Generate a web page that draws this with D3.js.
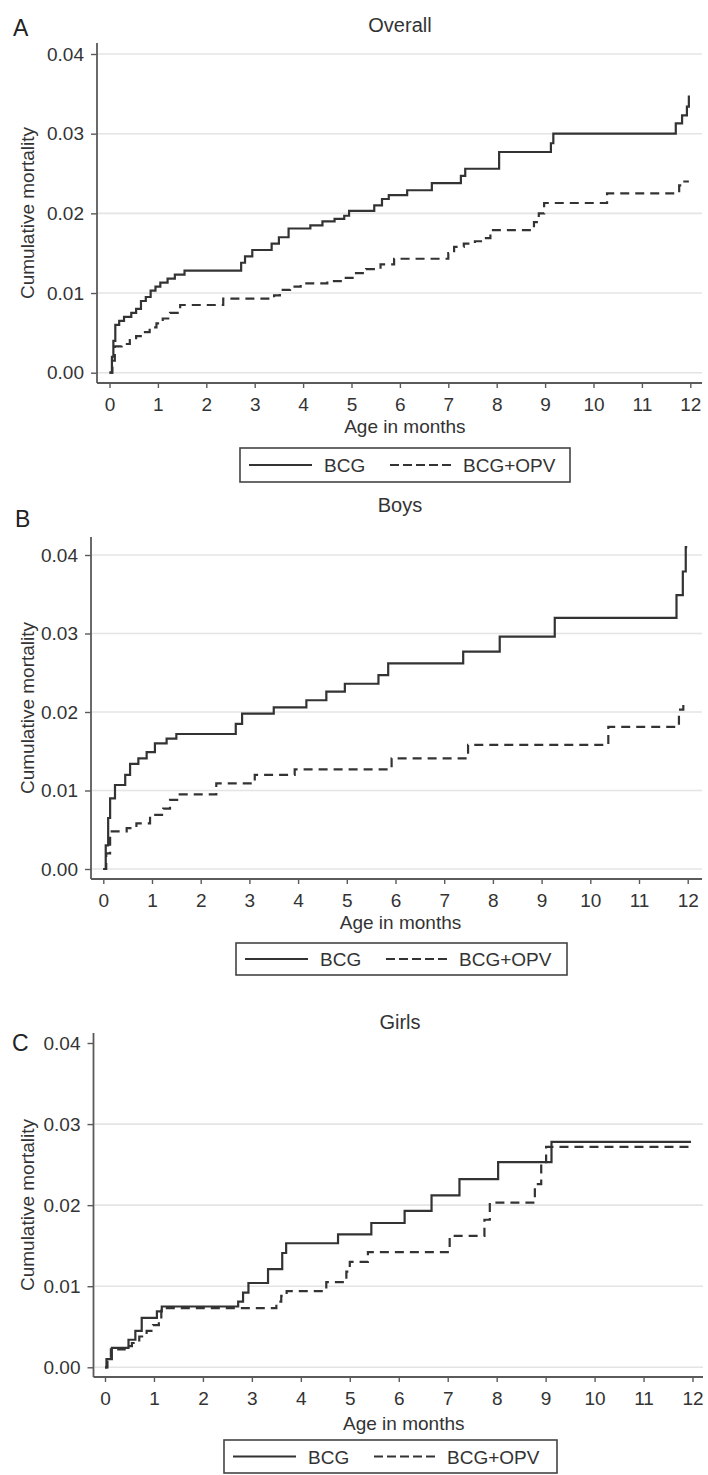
<!DOCTYPE html>
<html>
<head>
<meta charset="utf-8">
<script src="https://cdn.jsdelivr.net/npm/d3@7"></script>
<style>
  body { margin: 0; background: #fff; }
  svg { display: block; font-family: "Liberation Sans", Arial, sans-serif; }
</style>
</head>
<body>
<svg width="708" height="1475"></svg>
<script>
// tick labels
var ageTicks = [0, 1, 2, 3, 4, 5, 6, 7, 8, 9, 10, 11, 12];
var rateTicks = [0, 0.01, 0.02, 0.03, 0.04];
var seriesNames = ["BCG", "BCG+OPV"];

// A: overall
var aBcgT = [0, 0.05, 0.08, 0.12, 0.2, 0.3, 0.45, 0.55, 0.65, 0.75, 0.85, 0.95, 1.05, 1.2, 1.35, 1.55, 2.72, 2.8, 2.95, 3.35, 3.5, 3.7, 4.15, 4.4, 4.65, 4.85, 4.95, 5.47, 5.63, 5.77, 6.15, 6.66, 7.26, 7.35, 8.05, 9.12, 9.17, 11.7, 11.83, 11.93, 11.97];
var aBcgV = [0, 0.002, 0.004, 0.006, 0.0065, 0.007, 0.0075, 0.008, 0.009, 0.0095, 0.0103, 0.0108, 0.0113, 0.0118, 0.0123, 0.0128, 0.0138, 0.0146, 0.0154, 0.0162, 0.017, 0.0181, 0.0185, 0.019, 0.0193, 0.0197, 0.0203, 0.021, 0.0218, 0.0223, 0.0229, 0.0238, 0.0247, 0.0256, 0.0277, 0.0288, 0.03, 0.0313, 0.0323, 0.0334, 0.0348];
var aOpvT = [0, 0.06, 0.11, 0.25, 0.42, 0.55, 0.69, 0.83, 0.97, 1.1, 1.25, 1.46, 2.35, 3.4, 3.52, 3.73, 3.95, 4.5, 4.85, 5.05, 5.3, 5.6, 5.88, 7.0, 7.12, 7.32, 7.55, 7.7, 7.87, 8.77, 8.87, 8.98, 10.28, 11.77, 11.85, 11.97];
var aOpvV = [0, 0.0015, 0.0033, 0.0036, 0.0041, 0.0046, 0.0051, 0.0057, 0.0062, 0.0068, 0.0075, 0.0085, 0.0093, 0.0097, 0.0104, 0.0108, 0.0112, 0.0115, 0.0119, 0.0125, 0.013, 0.0136, 0.0143, 0.015, 0.0158, 0.0162, 0.0165, 0.0169, 0.0179, 0.0189, 0.02, 0.0213, 0.0225, 0.0235, 0.024, 0.024];

// B: boys
var bBcgT = [0, 0.05, 0.1, 0.14, 0.24, 0.45, 0.55, 0.72, 0.89, 1.06, 1.3, 1.5, 2.72, 2.85, 3.5, 4.17, 4.58, 4.96, 5.65, 5.85, 7.39, 8.14, 9.27, 11.77, 11.9, 11.96, 11.99];
var bBcgV = [0, 0.003, 0.0065, 0.009, 0.0107, 0.012, 0.0134, 0.0141, 0.0149, 0.016, 0.0166, 0.0172, 0.0185, 0.0198, 0.0206, 0.0215, 0.0226, 0.0236, 0.0247, 0.0262, 0.0277, 0.0296, 0.032, 0.0349, 0.0379, 0.041, 0.041];
var bOpvT = [0, 0.06, 0.14, 0.48, 0.68, 0.96, 1.23, 1.37, 1.57, 2.32, 3.11, 3.93, 5.92, 7.49, 10.37, 11.82, 11.91, 11.99];
var bOpvV = [0, 0.002, 0.0048, 0.0052, 0.0058, 0.0069, 0.0077, 0.0088, 0.0095, 0.0109, 0.012, 0.0127, 0.0141, 0.0158, 0.0181, 0.0203, 0.0211, 0.0211];

// C: girls
var cBcgT = [0, 0.03, 0.14, 0.48, 0.62, 0.75, 1.06, 1.16, 2.72, 2.82, 2.93, 3.33, 3.62, 3.7, 4.76, 5.44, 6.12, 6.67, 7.24, 8.03, 9.12, 11.97];
var cBcgV = [0, 0.001, 0.0024, 0.0034, 0.0045, 0.0061, 0.0069, 0.0075, 0.0081, 0.0092, 0.0104, 0.0121, 0.0141, 0.0153, 0.0164, 0.0178, 0.0193, 0.0212, 0.0232, 0.0253, 0.0278, 0.0278];
var cOpvT = [0, 0.05, 0.12, 0.4, 0.55, 0.7, 0.85, 0.98, 1.1, 1.15, 3.5, 3.6, 3.71, 4.52, 4.93, 5.0, 5.37, 7.04, 7.75, 7.86, 8.78, 8.91, 9.01, 11.92];
var cOpvV = [0, 0.0012, 0.0022, 0.0026, 0.003, 0.0038, 0.0045, 0.0052, 0.0057, 0.0073, 0.0081, 0.0088, 0.0094, 0.0105, 0.0118, 0.013, 0.0142, 0.0162, 0.0182, 0.0203, 0.0226, 0.0253, 0.0272, 0.0272];

var svg = d3.select("svg");
var ink = "#333",
    axisInk = "#5a5a5a",
    gridInk = "#e4e4e4",
    font = 19;

var zip = function (t, v) {
  return t.map(function (d, i) { return {t: d, v: v[i]}; });
};

var panels = [
  {letter: "A", title: "Overall", bcg: zip(aBcgT, aBcgV), opv: zip(aOpvT, aOpvV),
   axisX: 97, x0: 109.5, x12: 690.3, right: 702, top: 43, y0: 372.7, y04: 54, axisY: 383,
   titleY: 32, letterX: 13, letterY: 36, ageY: 433, legend: {x: 240, y: 448, w: 330, h: 34}, topGrid: true},
  {letter: "B", title: "Boys", bcg: zip(bBcgT, bBcgV), opv: zip(bOpvT, bOpvV),
   axisX: 91, x0: 103.3, x12: 687.7, right: 702, top: 537, y0: 869, y04: 555, axisY: 879,
   titleY: 512, letterX: 15, letterY: 527, ageY: 929, legend: {x: 236, y: 943, w: 331, h: 32}, topGrid: true},
  {letter: "C", title: "Girls", bcg: zip(cBcgT, cBcgV), opv: zip(cOpvT, cOpvV),
   axisX: 93.5, x0: 105, x12: 692.5, right: 703, top: 1033, y0: 1367.3, y04: 1043, axisY: 1377,
   titleY: 1029, letterX: 12, letterY: 1051, ageY: 1430, legend: {x: 224, y: 1440, w: 333, h: 33}, topGrid: false}
];

panels.forEach(function (p) {
  var g = svg.append("g");
  var x = d3.scaleLinear().domain([0, 12]).range([p.x0, p.x12]);
  var y = d3.scaleLinear().domain([0, 0.04]).range([p.y0, p.y04]);

  // gridlines
  g.selectAll(".grid")
    .data(rateTicks.filter(function (d) { return p.topGrid || d < 0.035; }))
    .enter().append("line")
    .attr("x1", p.axisX + 1).attr("x2", p.right)
    .attr("y1", function (d) { return y(d); })
    .attr("y2", function (d) { return y(d); })
    .attr("stroke", gridInk).attr("stroke-width", 1.6);

  // y axis
  var ya = g.append("g")
    .attr("transform", "translate(" + p.axisX + ",0)")
    .call(d3.axisLeft(y).tickValues(rateTicks).tickFormat(d3.format(".2f")).tickSize(6).tickPadding(7));
  ya.select(".domain").remove();
  ya.selectAll("line").attr("stroke", axisInk).attr("stroke-width", 1.4);
  ya.selectAll("text").attr("fill", ink).style("font-size", font + "px").attr("font-family", null);
  g.append("line")
    .attr("x1", p.axisX).attr("x2", p.axisX)
    .attr("y1", p.top).attr("y2", p.axisY)
    .attr("stroke", axisInk).attr("stroke-width", 1.8);

  // x axis
  var xa = g.append("g")
    .attr("transform", "translate(0," + p.axisY + ")")
    .call(d3.axisBottom(x).tickValues(ageTicks).tickFormat(d3.format("d")).tickSize(5).tickPadding(10));
  xa.select(".domain").remove();
  xa.selectAll("line").attr("stroke", axisInk).attr("stroke-width", 1.4);
  xa.selectAll("text").attr("fill", ink).style("font-size", font + "px").attr("font-family", null);
  g.append("line")
    .attr("x1", p.axisX).attr("x2", p.right)
    .attr("y1", p.axisY).attr("y2", p.axisY)
    .attr("stroke", axisInk).attr("stroke-width", 1.8);

  // titles
  g.append("text")
    .attr("x", 400).attr("y", p.titleY)
    .attr("text-anchor", "middle").attr("fill", ink)
    .style("font-size", "20px").text(p.title);
  g.append("text")
    .attr("x", p.letterX).attr("y", p.letterY)
    .attr("fill", "#222").style("font-size", "23px").text(p.letter);
  g.append("text")
    .attr("transform", "translate(34," + ((p.top + p.axisY) / 2) + ") rotate(-90)")
    .attr("text-anchor", "middle").attr("fill", ink)
    .style("font-size", font + "px").text("Cumulative mortality");
  g.append("text")
    .attr("x", (p.x0 + p.x12) / 2 + 5).attr("y", p.ageY)
    .attr("text-anchor", "middle").attr("fill", ink)
    .style("font-size", font + "px").text("Age in months");

  // curves
  var line = d3.line()
    .x(function (d) { return x(d.t); })
    .y(function (d) { return y(d.v); })
    .curve(d3.curveStepAfter);

  g.append("path").datum(p.bcg)
    .attr("fill", "none").attr("stroke", ink)
    .attr("stroke-width", 2.2).attr("d", line);
  g.append("path").datum(p.opv)
    .attr("fill", "none").attr("stroke", ink)
    .attr("stroke-width", 2.2).attr("stroke-dasharray", "9,6").attr("d", line);

  // legend
  var L = p.legend;
  var lg = g.append("g").attr("transform", "translate(" + L.x + "," + L.y + ")");
  lg.append("rect")
    .attr("width", L.w).attr("height", L.h)
    .attr("fill", "#fff").attr("stroke", "#444").attr("stroke-width", 1.6);
  var my = L.h / 2;
  lg.append("line").attr("x1", 9).attr("x2", 72).attr("y1", my).attr("y2", my)
    .attr("stroke", ink).attr("stroke-width", 2);
  lg.append("line").attr("x1", 150).attr("x2", 213).attr("y1", my).attr("y2", my)
    .attr("stroke", ink).attr("stroke-width", 2).attr("stroke-dasharray", "9,4");
  lg.append("text").attr("x", 84).attr("y", my + 7).attr("fill", ink)
    .style("font-size", font + "px").text(seriesNames[0]);
  lg.append("text").attr("x", 223).attr("y", my + 7).attr("fill", ink)
    .style("font-size", font + "px").text(seriesNames[1]);
});
</script>
</body>
</html>
